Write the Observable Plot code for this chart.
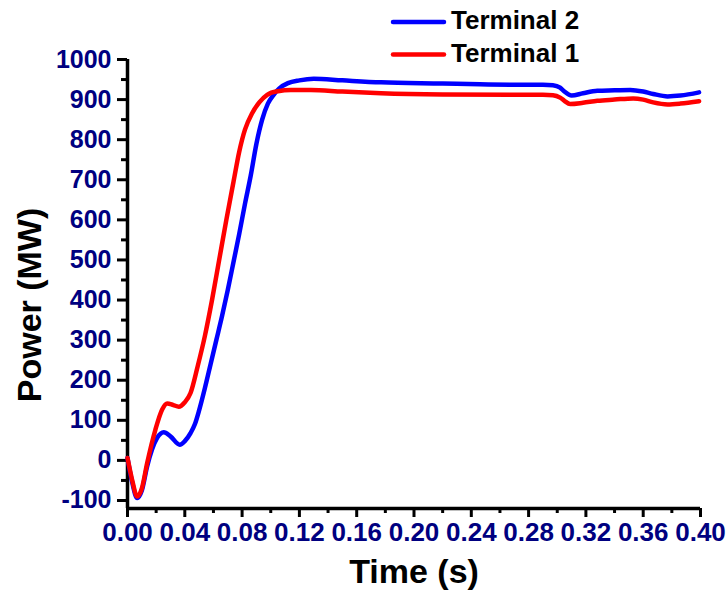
<!DOCTYPE html>
<html>
<head>
<meta charset="utf-8">
<script src="https://cdn.jsdelivr.net/npm/d3@7"></script>
<script src="https://cdn.jsdelivr.net/npm/@observablehq/plot@0.6"></script>
<style>
  html, body { margin: 0; padding: 0; background: #fff; }
  #chart { position: relative; width: 727px; height: 594px; }
  #legend { position: absolute; left: 0; top: 0; pointer-events: none; }
</style>
</head>
<body>
<div id="chart"></div>
<script>
// Terminal 1 active power (MW) over time (s)
const t1Time = [0.000, 0.003, 0.0068, 0.010, 0.0137, 0.0195, 0.0242, 0.0277, 0.032, 0.0358, 0.040, 0.044, 0.049,
  0.054, 0.059, 0.064, 0.069, 0.074, 0.078, 0.082, 0.087, 0.092, 0.0975, 0.105, 0.114, 0.128, 0.150, 0.177,
  0.220, 0.274, 0.290, 0.297, 0.302, 0.305, 0.309, 0.318, 0.328, 0.340, 0.353, 0.360, 0.367, 0.377, 0.386, 0.399];
const t1Power = [6, -45, -90, -70, -7, 77, 127, 142, 138, 134, 145, 168, 235,
  310, 400, 500, 600, 695, 770, 825, 866, 893, 912, 921, 924, 924, 920, 916,
  913, 912, 912, 911, 905, 897, 889, 892, 897, 900, 903, 900, 893, 888, 890, 896];

// Terminal 2 active power (MW) over time (s)
const t2Time = [0.000, 0.003, 0.0068, 0.010, 0.0137, 0.0207, 0.0253, 0.030, 0.0365, 0.040, 0.044, 0.047, 0.050,
  0.054, 0.058, 0.062, 0.066, 0.070, 0.074, 0.078, 0.082, 0.086, 0.090, 0.094, 0.098, 0.102, 0.106, 0.112,
  0.120, 0.130, 0.150, 0.177, 0.220, 0.246, 0.274, 0.290, 0.297, 0.302, 0.305, 0.310, 0.318, 0.328, 0.340,
  0.351, 0.360, 0.367, 0.377, 0.386, 0.399];
const t2Power = [6, -50, -94, -75, -15, 56, 70, 60, 39, 48, 68, 90, 125,
  180, 240, 300, 360, 425, 495, 565, 640, 710, 790, 850, 890, 912, 928, 941,
  948, 952, 948, 943, 940, 938, 937, 937, 936, 930, 920, 910, 916, 922, 923,
  924, 920, 914, 908, 910, 918];

const seriesNames = ["Terminal 2", "Terminal 1"];
const seriesColors = ["#0000ff", "#ff0000"];

const xDomain = [0, 0.40];
const yDomain = [-120, 1000];
const xMajor = d3.range(0, 41, 4).map(d => d / 100);
const xMinor = d3.range(2, 41, 4).map(d => d / 100);
const yMajor = d3.range(-100, 1001, 100);
const yMinor = d3.range(-50, 1000, 100);

const t1 = t1Time.map((t, i) => ({t, p: t1Power[i]}));
const t2 = t2Time.map((t, i) => ({t, p: t2Power[i]}));

const font = "'Liberation Sans', Arial, sans-serif";
const tickColor = "#000080";

const plot = Plot.plot({
  width: 727,
  height: 594,
  marginLeft: 127,
  marginRight: 27,
  marginTop: 59,
  marginBottom: 86,
  style: {fontFamily: font, background: "white", overflow: "visible"},
  x: {domain: xDomain, axis: null},
  y: {domain: yDomain, axis: null},
  marks: [
    // minor ticks
    Plot.axisX({ticks: xMinor, tickSize: 5, strokeWidth: 3, stroke: "black", tickFormat: () => "", label: null}),
    Plot.axisY({ticks: yMinor, tickSize: 6, strokeWidth: 3, stroke: "black", tickFormat: () => "", label: null}),
    // major ticks with labels
    Plot.axisX({
      ticks: xMajor, tickSize: 9, tickPadding: 5, strokeWidth: 3, stroke: "black",
      fill: tickColor, fontSize: 26, fontWeight: "bold", tickFormat: d3.format(".2f"), label: null
    }),
    Plot.axisY({
      ticks: yMajor, tickSize: 10, tickPadding: 6, strokeWidth: 3, stroke: "black",
      fill: tickColor, fontSize: 25, fontWeight: "bold", tickFormat: d => String(d), label: null
    }),
    // axis lines
    Plot.ruleX([xDomain[0]], {stroke: "black", strokeWidth: 3.5}),
    Plot.ruleY([yDomain[0]], {stroke: "black", strokeWidth: 3.5}),
    // power curves
    Plot.line(t2, {x: "t", y: "p", stroke: seriesColors[0], strokeWidth: 4.5, curve: "monotone-x"}),
    Plot.line(t1, {x: "t", y: "p", stroke: seriesColors[1], strokeWidth: 4.5, curve: "monotone-x"}),
    // axis titles
    Plot.text(["Time (s)"], {frameAnchor: "bottom", lineAnchor: "bottom", dy: 74, fontSize: 34, fontWeight: "bold", fill: "black"}),
    Plot.text(["Power (MW)"], {frameAnchor: "left", textAnchor: "middle", dx: -97, dy: 21, rotate: -90, fontSize: 34, fontWeight: "bold", fill: "black"})
  ]
});

const chart = document.getElementById("chart");
chart.appendChild(plot);

// legend overlay
const legend = d3.select(chart).append("svg")
  .attr("id", "legend")
  .attr("width", 727)
  .attr("height", 75);
seriesNames.forEach((name, i) => {
  const y = 22 + i * 32.5;
  legend.append("line")
    .attr("x1", 393).attr("x2", 444).attr("y1", y).attr("y2", y)
    .attr("stroke", seriesColors[i]).attr("stroke-width", 4.5).attr("stroke-linecap", "round");
  legend.append("text")
    .attr("x", 451).attr("y", y + 7)
    .attr("font-family", font).attr("font-size", 26).attr("font-weight", "bold")
    .attr("fill", "black")
    .text(name);
});
</script>
</body>
</html>
